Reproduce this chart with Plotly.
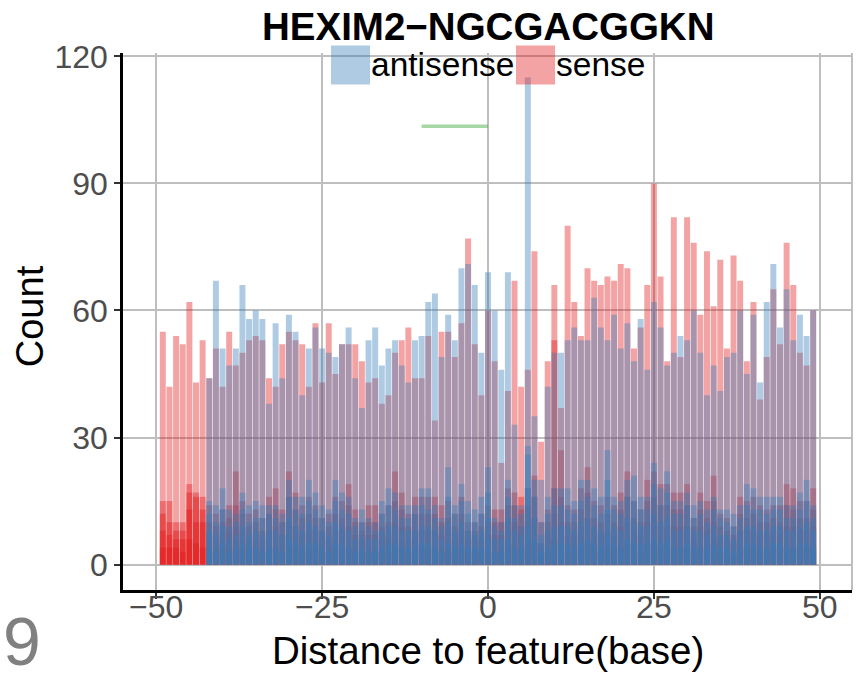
import plotly.graph_objects as go

# distance bins (base) and counts
distance = list(range(-49, 50))

antisense_total = [0, 0, 0, 0, 0, 0, 0,
                   44, 67, 51, 47, 51, 66, 58, 60, 58, 38,
                   57, 44, 59, 55, 40, 51, 56, 51, 50, 49,
                   52, 56, 44, 37, 53, 56, 47, 51, 53, 47,
                   43, 53, 54, 62, 64, 49, 59, 53, 70, 71,
                   66, 50, 69, 60, 46, 69, 33, 14, 115, 35,
                   20, 42, 50, 50, 53, 56, 53, 53, 63, 56,
                   53, 59, 51, 57, 48, 58, 46, 62, 56, 47,
                   50, 54, 53, 60, 50, 40, 47, 41, 49, 50,
                   60, 45, 59, 43, 62, 71, 56, 65, 53, 59,
                   54, 60]
sense_total = [55, 42, 54, 52, 62, 43, 53,
               44, 51, 42, 55, 47, 50, 53, 54, 53, 44,
               42, 52, 55, 53, 52, 42, 57, 43, 57, 45,
               52, 52, 52, 48, 43, 44, 38, 40, 50, 53,
               56, 44, 44, 54, 34, 55, 55, 49, 57, 77,
               52, 40, 60, 48, 24, 41, 67, 42, 46, 74,
               29, 48, 66, 37, 80, 62, 54, 70, 67, 66,
               68, 67, 71, 70, 51, 56, 66, 90, 68, 48,
               82, 49, 82, 76, 59, 74, 61, 72, 51, 73,
               67, 48, 62, 39, 49, 65, 52, 76, 66, 50,
               47, 60]

# smaller overlapping groups drawn under the totals
antisense_g1 = [0, 0, 0, 0, 0, 0, 0,
                15, 14, 18, 13, 12, 17, 14, 15, 14, 14,
                14, 12, 20, 16, 16, 20, 17, 14, 13, 20,
                17, 16, 11, 13, 11, 10, 15, 18, 17, 14,
                14, 14, 18, 18, 14, 11, 23, 14, 19, 15,
                13, 16, 23, 11, 10, 20, 14, 12, 28, 20,
                10, 16, 18, 18, 18, 15, 20, 20, 18, 16,
                27, 16, 15, 20, 21, 16, 16, 24, 18, 22,
                15, 15, 17, 14, 15, 13, 16, 13, 13, 12,
                14, 19, 18, 16, 16, 16, 16, 14, 14, 17,
                20, 14]
antisense_g2 = [0, 0, 0, 0, 0, 0, 0,
                12, 10, 13, 9, 10, 13, 10, 11, 11, 12,
                11, 10, 16, 13, 12, 15, 13, 11, 10, 15,
                13, 12, 9, 10, 9, 8, 12, 14, 13, 11,
                11, 12, 14, 13, 11, 9, 16, 12, 15, 12,
                10, 12, 17, 9, 8, 16, 11, 9, 26, 16,
                7, 12, 14, 14, 13, 12, 15, 16, 14, 12,
                20, 13, 12, 16, 15, 13, 13, 19, 14, 17,
                12, 12, 14, 11, 12, 10, 13, 11, 10, 9,
                11, 14, 13, 13, 12, 13, 13, 11, 11, 13,
                15, 11]
antisense_g3 = [0, 0, 0, 0, 0, 0, 0,
                8, 7, 9, 6, 7, 9, 7, 8, 7, 8,
                8, 7, 11, 9, 8, 10, 9, 8, 7, 10,
                9, 8, 6, 7, 6, 6, 8, 9, 9, 8,
                8, 8, 9, 9, 8, 6, 10, 8, 10, 8,
                7, 8, 11, 6, 6, 11, 8, 7, 18, 11,
                5, 8, 9, 9, 9, 8, 10, 11, 9, 8,
                13, 9, 8, 11, 10, 9, 9, 12, 10, 11,
                8, 8, 9, 8, 8, 7, 9, 7, 7, 6,
                8, 9, 9, 8, 8, 9, 9, 8, 8, 9,
                10, 8]
antisense_g4 = [0, 0, 0, 0, 0, 0, 0,
                4, 3, 5, 3, 4, 5, 4, 4, 3, 4,
                4, 3, 6, 5, 4, 5, 5, 4, 3, 5,
                5, 4, 3, 4, 3, 3, 4, 5, 5, 4,
                4, 4, 5, 5, 4, 3, 5, 4, 5, 4,
                4, 4, 6, 3, 3, 6, 4, 4, 9, 6,
                3, 4, 5, 5, 5, 4, 5, 6, 5, 4,
                7, 5, 4, 6, 5, 5, 5, 6, 5, 6,
                4, 4, 5, 4, 4, 4, 5, 4, 4, 3,
                4, 5, 5, 4, 4, 5, 5, 4, 4, 5,
                5, 4]
sense_g1 = [15, 15, 10, 10, 19, 17, 16,
            14, 12, 13, 14, 22, 15, 12, 13, 11, 16,
            18, 13, 22, 17, 14, 16, 14, 11, 12, 16,
            15, 19, 13, 10, 14, 14, 12, 14, 22, 17,
            12, 16, 16, 16, 16, 14, 15, 12, 16, 10,
            10, 12, 14, 13, 13, 18, 17, 16, 18, 21,
            10, 13, 53, 27, 14, 13, 18, 23, 15, 14,
            16, 14, 17, 22, 15, 13, 20, 22, 19, 19,
            17, 17, 19, 11, 17, 15, 21, 12, 11, 9,
            16, 15, 16, 14, 13, 14, 14, 19, 18, 15,
            15, 18]
sense_g2 = [12, 10, 8, 8, 17, 16, 13,
            10, 9, 10, 11, 14, 12, 9, 10, 8, 12,
            13, 10, 16, 13, 11, 12, 11, 8, 9, 12,
            11, 14, 10, 8, 10, 10, 9, 10, 15, 13,
            9, 12, 12, 12, 12, 10, 11, 9, 12, 8,
            8, 9, 10, 10, 10, 14, 14, 13, 14, 16,
            5, 10, 18, 16, 10, 10, 13, 17, 11, 10,
            12, 10, 13, 16, 11, 10, 15, 16, 14, 14,
            13, 13, 14, 9, 13, 11, 15, 9, 8, 7,
            12, 11, 12, 10, 10, 11, 10, 14, 13, 11,
            11, 13]
sense_g3 = [8, 7, 6, 6, 13, 10, 10,
            7, 6, 7, 8, 9, 8, 6, 7, 6, 8,
            9, 7, 10, 9, 7, 8, 8, 6, 6, 8,
            8, 9, 7, 6, 7, 7, 6, 7, 10, 9,
            6, 8, 8, 8, 8, 7, 8, 6, 8, 6,
            6, 6, 7, 7, 7, 9, 10, 9, 10, 11,
            4, 7, 12, 10, 7, 7, 9, 11, 8, 7,
            8, 7, 9, 10, 8, 7, 10, 11, 9, 9,
            9, 9, 9, 6, 9, 8, 10, 6, 6, 5,
            8, 8, 8, 7, 7, 8, 7, 9, 9, 8,
            8, 9]
sense_g4 = [4, 4, 4, 3, 6, 5, 4,
            3, 3, 4, 4, 5, 4, 3, 4, 3, 4,
            4, 3, 5, 4, 3, 4, 4, 3, 3, 4,
            4, 4, 3, 3, 3, 3, 3, 3, 5, 4,
            3, 4, 4, 4, 4, 3, 4, 3, 4, 3,
            3, 3, 3, 3, 3, 4, 5, 4, 5, 5,
            2, 3, 6, 5, 3, 3, 4, 5, 4, 3,
            4, 3, 4, 5, 4, 3, 5, 5, 4, 4,
            4, 4, 4, 3, 4, 4, 5, 3, 3, 2,
            4, 4, 4, 3, 3, 4, 3, 4, 4, 4,
            4, 4]

# motif segment (green line)
motif_x = [-10, 0]
motif_y = [103.5, 103.5]

RED = "rgba(228,26,28,0.4)"
BLUE = "rgba(55,126,184,0.4)"
FONT = "Liberation Sans, Arial, sans-serif"

fig = go.Figure()
for vals in [sense_total, sense_g1, sense_g2, sense_g3, sense_g4]:
    fig.add_trace(go.Bar(x=distance, y=vals, width=0.9, marker_color=RED,
                         marker_line_width=0, showlegend=False, hoverinfo="skip"))
for vals in [antisense_total, antisense_g1, antisense_g2, antisense_g3, antisense_g4]:
    fig.add_trace(go.Bar(x=distance, y=vals, width=0.9, marker_color=BLUE,
                         marker_line_width=0, showlegend=False, hoverinfo="skip"))
fig.add_trace(go.Scatter(x=motif_x, y=motif_y, mode="lines",
                         line=dict(color="rgba(77,175,74,0.5)", width=3.5),
                         showlegend=False, hoverinfo="skip"))

# plot area in pixels: x 123..852, y 52.6..590
L, R, T, B = 123, 852, 52.6, 590
def px(x):
    return (x - L) / (R - L)
def py(y):
    return (B - y) / (B - T)

shapes = [
    dict(type="rect", xref="paper", yref="paper", x0=px(331), x1=px(370),
         y0=py(84), y1=py(45), fillcolor=BLUE, line_width=0, layer="above"),
    dict(type="rect", xref="paper", yref="paper", x0=px(516), x1=px(555),
         y0=py(84), y1=py(45), fillcolor=RED, line_width=0, layer="above"),
    dict(type="line", xref="paper", yref="paper", x0=1, x1=1, y0=0, y1=1,
         line=dict(color="#BEBEBE", width=2), layer="below"),
]

annotations = [
    dict(text="<b>HEXIM2\u2212NGCGACGGKN</b>", x=0.5, y=py(26), xref="paper", yref="paper",
         showarrow=False, font=dict(size=38.5, color="black", family=FONT),
         xanchor="center", yanchor="middle"),
    dict(text="antisense", x=px(369), y=py(64), xref="paper", yref="paper",
         showarrow=False, font=dict(size=33.5, color="black", family=FONT),
         xanchor="left", yanchor="middle"),
    dict(text="sense", x=px(554), y=py(64), xref="paper", yref="paper",
         showarrow=False, font=dict(size=33.5, color="black", family=FONT),
         xanchor="left", yanchor="middle"),
    dict(text="Count", x=px(30), y=py(316), xref="paper", yref="paper", textangle=-90,
         showarrow=False, font=dict(size=38, color="black", family=FONT),
         xanchor="center", yanchor="middle"),
    dict(text="Distance to feature(base)", x=0.5, y=py(651), xref="paper", yref="paper",
         showarrow=False, font=dict(size=38.5, color="black", family=FONT),
         xanchor="center", yanchor="middle"),
    dict(text="9", x=px(1), y=py(641), xref="paper", yref="paper",
         showarrow=False, font=dict(size=68, color="#808080", family=FONT),
         xanchor="left", yanchor="middle"),
]

fig.update_layout(
    width=866, height=673,
    margin=dict(l=L, r=866 - R, t=T, b=673 - B, autoexpand=False),
    barmode="overlay",
    plot_bgcolor="white", paper_bgcolor="white",
    font=dict(family=FONT),
    shapes=shapes, annotations=annotations,
    xaxis=dict(range=[-55, 54.85], tickvals=[-50, -25, 0, 25, 50],
               showgrid=True, gridcolor="#BEBEBE", gridwidth=2, zeroline=False,
               showline=True, linecolor="black", linewidth=2.5, automargin=False,
               ticks="outside", ticklen=6, tickwidth=2, tickcolor="#333333",
               ticklabelstandoff=-19,
               tickfont=dict(size=32, color="#4D4D4D")),
    yaxis=dict(range=[-6, 120.8], tickvals=[0, 30, 60, 90, 120],
               showgrid=True, gridcolor="#BEBEBE", gridwidth=2, zeroline=False,
               showline=True, linecolor="black", linewidth=2.5, automargin=False,
               ticks="outside", ticklen=6, tickwidth=2, tickcolor="#333333",
               tickfont=dict(size=32, color="#4D4D4D")),
)

fig.write_html("out.html", config={"displayModeBar": False},
               post_script="document.body.style.margin='0';")
